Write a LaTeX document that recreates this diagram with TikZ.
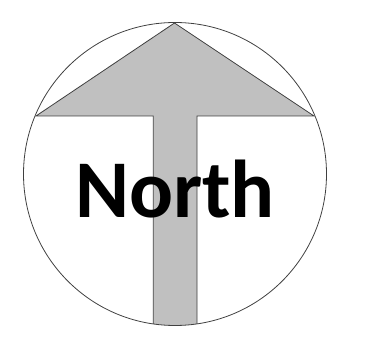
\documentclass[tikz,border=0pt]{standalone}
\usepackage{fontspec}
\setmainfont{Carlito}
\definecolor{arrowgray}{HTML}{C0C0C0}
\definecolor{edgegray}{HTML}{404040}

\begin{document}
\begin{tikzpicture}[
    x=1pt, y=1pt,
    dial/.style={draw=edgegray, line width=0.8pt},
    pointer/.style={fill=arrowgray, draw=edgegray, line width=0.8pt, line join=miter},
    label/.style={inner sep=0pt, anchor=base, font=\bfseries\fontsize{82}{90}\selectfont}
]
\useasboundingbox (0,0) rectangle (383,337);
\coordinate (centre) at (175,163);
% arrow, cut off by the circle at the bottom
\begin{scope}
  \clip (centre) circle (151.5);
  \draw[pointer] (153.3,0) -- (153.3,221) -- (36,221) -- (174.5,314) -- (314,221) -- (197,221) -- (197,0) -- cycle;
\end{scope}
\draw[dial] (centre) circle (151.5);
\node[label] (north) at (175,119) {North};
\end{tikzpicture}
\end{document}
